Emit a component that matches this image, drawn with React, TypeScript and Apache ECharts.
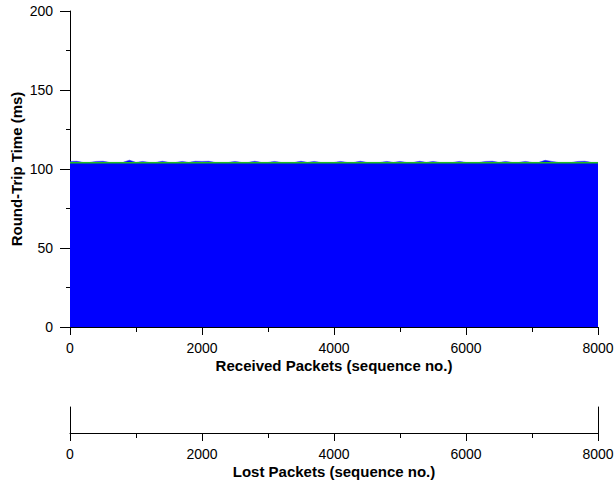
import React, { useEffect, useRef } from "react";
import * as echarts from "echarts";

const seqNo = [
  0, 100, 200, 300, 400, 500, 600, 700, 800, 900,
  1000, 1100, 1200, 1300, 1400, 1500, 1600, 1700, 1800, 1900,
  2000, 2100, 2200, 2300, 2400, 2500, 2600, 2700, 2800, 2900,
  3000, 3100, 3200, 3300, 3400, 3500, 3600, 3700, 3800, 3900,
  4000, 4100, 4200, 4300, 4400, 4500, 4600, 4700, 4800, 4900,
  5000, 5100, 5200, 5300, 5400, 5500, 5600, 5700, 5800, 5900,
  6000, 6100, 6200, 6300, 6400, 6500, 6600, 6700, 6800, 6900,
  7000, 7100, 7200, 7300, 7400, 7500, 7600, 7700, 7800, 7900,
  8000,
];

const rttMs = [
  104.8, 104.9, 104.2, 104.2, 104.8, 104.9, 104.2, 104.2, 104.2, 105.6,
  104.2, 104.8, 104.2, 104.2, 104.9, 104.2, 104.2, 104.8, 104.2, 104.9,
  104.8, 104.9, 104.2, 104.2, 104.2, 104.8, 104.2, 104.2, 104.9, 104.2,
  104.2, 104.8, 104.2, 104.2, 104.2, 104.9, 104.2, 104.8, 104.2, 104.2,
  104.2, 104.8, 104.2, 104.2, 104.9, 104.2, 104.2, 104.2, 104.8, 104.2,
  104.8, 104.2, 104.2, 104.9, 104.2, 104.8, 104.2, 104.2, 104.2, 104.8,
  104.2, 104.2, 104.2, 104.8, 104.9, 104.2, 104.8, 104.2, 104.2, 104.8,
  104.2, 104.2, 105.5, 104.8, 104.2, 104.2, 104.2, 104.8, 104.9, 104.2,
  104.2,
];

const baseSeq = [0, 1000, 2000, 3000, 4000, 5000, 6000, 7000, 8000];
const baseRtt = [104.0, 104.0, 104.0, 104.0, 104.0, 104.0, 104.0, 104.0, 104.0];

const FONT = "'Liberation Sans', Arial, Helvetica, sans-serif";

export default function App() {
  const ref = useRef<HTMLDivElement>(null);
  useEffect(() => {
    if (!ref.current) return;
    const chart = echarts.init(ref.current, undefined, { renderer: "svg" });
    const axisLine = { show: true, lineStyle: { color: "#000", width: 1 } };
    const xCommon = {
      type: "value" as const,
      min: 0,
      max: 8000,
      interval: 2000,
      axisLine,
      axisTick: { show: true, length: 8, lineStyle: { color: "#000" } },
      minorTick: { show: true, splitNumber: 2, length: 5, lineStyle: { color: "#000" } },
      splitLine: { show: false },
      axisLabel: {
        fontSize: 14,
        color: "#000",
        margin: 14,
        fontFamily: FONT,
        formatter: (v: number) => String(v),
      },
      nameLocation: "middle" as const,
      nameGap: 31,
      nameMoveOverlap: false,
      nameTextStyle: { fontSize: 15, fontWeight: "bold" as const, color: "#000", fontFamily: FONT },
    };
    chart.setOption({
      animation: false,
      textStyle: { fontFamily: FONT },
      grid: [
        { left: 70, right: 18, top: 11, height: 316, containLabel: false, outerBoundsMode: "none" },
        { left: 70, right: 18, top: 407, height: 26, containLabel: false, outerBoundsMode: "none" },
      ],
      xAxis: [
        { ...xCommon, gridIndex: 0, name: "Received Packets (sequence no.)" },
        { ...xCommon, gridIndex: 1, name: "Lost Packets (sequence no.)" },
      ],
      yAxis: [
        {
          type: "value",
          gridIndex: 0,
          min: 0,
          max: 200,
          interval: 50,
          axisLine,
          axisTick: { show: true, length: 10, lineStyle: { color: "#000" } },
          minorTick: { show: true, splitNumber: 2, length: 4, lineStyle: { color: "#000" } },
          splitLine: { show: false },
          axisLabel: {
            fontSize: 14,
            color: "#000",
            margin: 17,
            fontFamily: FONT,
            formatter: (v: number) => String(v),
          },
          name: "Round-Trip Time (ms)",
          nameLocation: "middle",
          nameGap: 46,
          nameMoveOverlap: false,
          nameTextStyle: { fontSize: 15, fontWeight: "bold", color: "#000", fontFamily: FONT },
        },
        {
          type: "value",
          gridIndex: 1,
          min: 0,
          max: 1,
          axisLine,
          axisTick: { show: false },
          axisLabel: { show: false },
          splitLine: { show: false },
        },
        {
          type: "value",
          gridIndex: 1,
          position: "right",
          min: 0,
          max: 1,
          axisLine,
          axisTick: { show: false },
          axisLabel: { show: false },
          splitLine: { show: false },
        },
      ],
      series: [
        {
          type: "line",
          xAxisIndex: 0,
          yAxisIndex: 0,
          data: seqNo.map((s, i) => [s, rttMs[i]]),
          showSymbol: false,
          symbol: "none",
          lineStyle: { color: "#3333ff", width: 0.5 },
          areaStyle: { color: "#0000ff", opacity: 1 },
          z: 2,
        },
        {
          type: "line",
          xAxisIndex: 0,
          yAxisIndex: 0,
          data: baseSeq.map((s, i) => [s, baseRtt[i]]),
          showSymbol: false,
          symbol: "none",
          lineStyle: { color: "#1fc01f", width: 1.5 },
          z: 3,
        },
      ],
    });
    return () => chart.dispose();
  }, []);
  return (
    <div
      ref={ref}
      style={{ position: "fixed", left: 0, top: 0, width: 616, height: 483, background: "#fff" }}
    />
  );
}
